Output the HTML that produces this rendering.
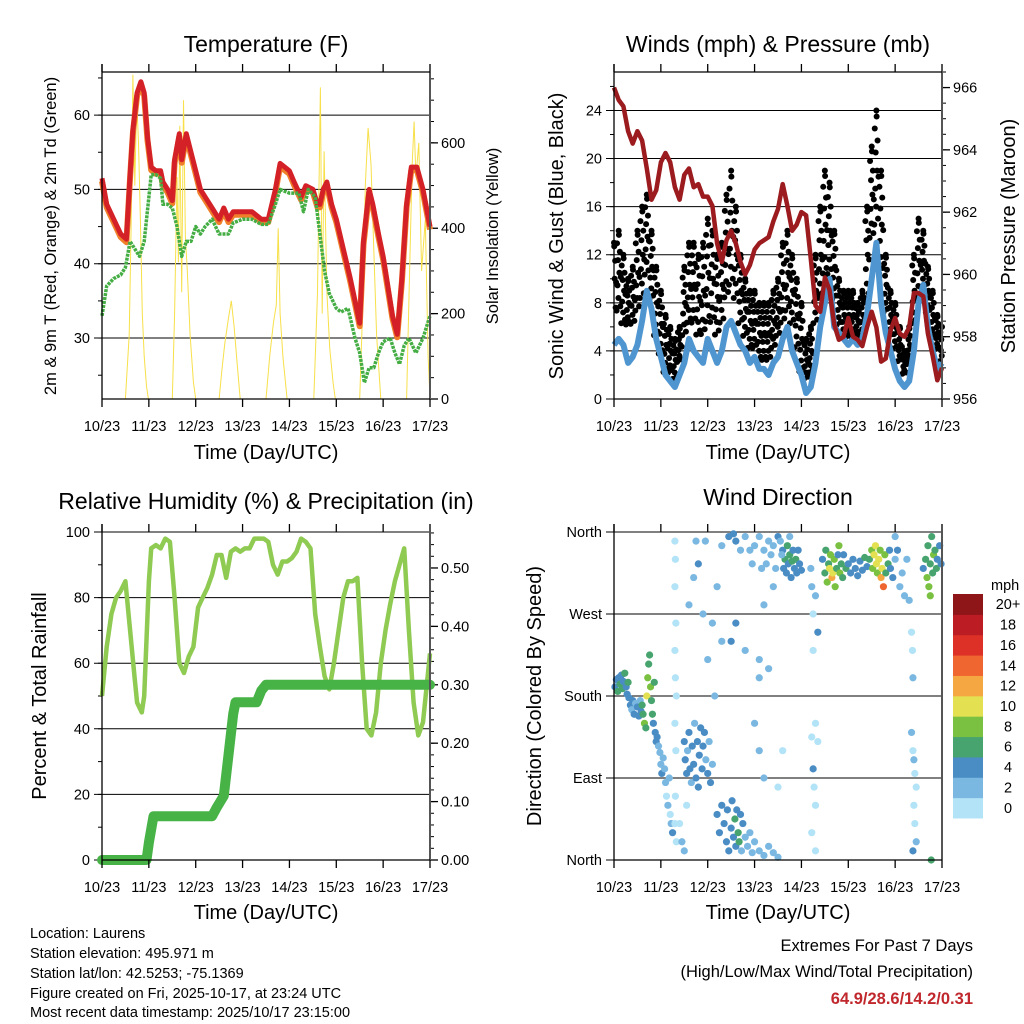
<!DOCTYPE html>
<html><head><meta charset="utf-8"><style>
html,body{margin:0;padding:0;background:#fff}
svg{display:block;font-family:"Liberation Sans",Arial,sans-serif}
</style></head><body>
<svg id="root" width="1024" height="1024" viewBox="0 0 1024 1024">
<rect width="1024" height="1024" fill="#fff"/>
<g id="g1"></g>
<g id="g2"></g>
<g id="g3"></g>
<g id="g4"></g>
<text x="266" y="52" font-size="23" text-anchor="middle">Temperature (F)</text>
<text x="778" y="52" font-size="23" text-anchor="middle">Winds (mph) &amp; Pressure (mb)</text>
<text x="266" y="509" font-size="23" text-anchor="middle">Relative Humidity (%) &amp; Precipitation (in)</text>
<text x="778" y="505" font-size="23" text-anchor="middle">Wind Direction</text>
<text x="266" y="459" font-size="20" text-anchor="middle">Time (Day/UTC)</text>
<text x="778" y="459" font-size="20" text-anchor="middle">Time (Day/UTC)</text>
<text x="266" y="919" font-size="20" text-anchor="middle">Time (Day/UTC)</text>
<text x="778" y="919" font-size="20" text-anchor="middle">Time (Day/UTC)</text>
<text transform="translate(56,236) rotate(-90)" font-size="16.5" text-anchor="middle">2m &amp; 9m T (Red, Orange) &amp; 2m Td (Green)</text>
<text transform="translate(498,236) rotate(-90)" font-size="16.5" text-anchor="middle">Solar Insolation (Yellow)</text>
<text transform="translate(563,236) rotate(-90)" font-size="20" text-anchor="middle">Sonic Wind &amp; Gust (Blue, Black)</text>
<text transform="translate(1015,236) rotate(-90)" font-size="20" text-anchor="middle">Station Pressure (Maroon)</text>
<text transform="translate(46,696) rotate(-90)" font-size="20" text-anchor="middle">Percent &amp; Total Rainfall</text>
<text transform="translate(541,696) rotate(-90)" font-size="20" text-anchor="middle">Direction (Colored By Speed)</text>
<g font-size="14.5">
<text x="30" y="938">Location: Laurens</text>
<text x="30" y="958">Station elevation: 495.971 m</text>
<text x="30" y="978">Station lat/lon: 42.5253; -75.1369</text>
<text x="30" y="998">Figure created on Fri, 2025-10-17, at 23:24 UTC</text>
<text x="30" y="1017">Most recent data timestamp: 2025/10/17 23:15:00</text>
</g>
<text x="973" y="951" font-size="16.5" text-anchor="end">Extremes For Past 7 Days</text>
<text x="973" y="977" font-size="16.5" text-anchor="end">(High/Low/Max Wind/Total Precipitation)</text>
<text x="973" y="1004" font-size="16.5" font-weight="bold" fill="#c0282d" text-anchor="end">64.9/28.6/14.2/0.31</text>
</svg>
<script>
// ---------- data ----------
const dayLabels=['10/23','11/23','12/23','13/23','14/23','15/23','16/23','17/23'];
const tempT=[0,0.1,0.25,0.4,0.52,0.6,0.66,0.75,0.83,0.9,0.97,1.05,1.15,1.25,1.3,1.4,1.5,1.55,1.65,1.7,1.8,1.9,2.0,2.1,2.2,2.35,2.5,2.6,2.7,2.8,3.0,3.2,3.4,3.55,3.7,3.8,3.9,4.0,4.1,4.25,4.35,4.5,4.6,4.65,4.72,4.8,4.9,5.0,5.15,5.3,5.4,5.5,5.58,5.7,5.78,5.9,6.0,6.1,6.2,6.3,6.4,6.5,6.6,6.72,6.85,7.0];
const tempV=[51.5,48,46,44,43.3,52,58,63,64.5,63,57,53,52.5,52.5,51,50,48.5,54,57.5,54,57.5,55,52.5,50,49,47.5,46,47.5,46,47,47,47,46,46,50,53.5,53,52.5,51,49,50.5,50,48,48,50,51,48,46,42,38,35,32,43,50,48,44,41,37,33,30.5,38,48,53,53,50,45];
const dewT=[0,0.1,0.25,0.4,0.5,0.6,0.7,0.8,0.9,1.0,1.05,1.15,1.25,1.3,1.4,1.5,1.6,1.7,1.8,1.9,2.0,2.1,2.2,2.35,2.5,2.7,2.8,3.0,3.2,3.4,3.55,3.7,3.8,4.0,4.2,4.3,4.4,4.55,4.65,4.75,4.85,5.0,5.1,5.25,5.4,5.5,5.6,5.7,5.8,5.9,6.0,6.15,6.25,6.35,6.45,6.55,6.7,6.85,7.0];
const dewV=[33,37,38,38.5,39.5,43,42,41,43,49,52,52,51.5,48,48,47.5,45,41,43,43,45,44,45,46,44,44,45.5,46,46,45.3,45.3,48,50,49.5,49.5,47,50,49,44,39,36,34,33.5,34,30,28,24,26,26,28,29.5,30,28,26.5,29,30,28,30,33];
const solarT=[0,0.5,0.58,0.62,0.66,0.7,0.74,0.78,0.82,0.86,0.9,0.95,0.99,1.5,1.55,1.6,1.63,1.66,1.7,1.74,1.78,1.82,1.88,1.95,2.0,2.5,2.56,2.62,2.7,2.76,2.82,2.88,2.95,3.5,3.58,3.66,3.72,3.76,3.8,3.86,3.95,4.52,4.6,4.66,4.7,4.74,4.8,4.86,4.93,4.98,5.5,5.56,5.62,5.68,5.74,5.8,5.86,5.95,6.5,6.56,6.62,6.66,6.7,6.76,6.82,6.9,6.96,7.0];
const solarV=[0,0,150,400,760,500,700,600,420,200,100,30,0,0,200,520,320,640,250,700,380,300,150,40,0,0,70,130,190,230,170,90,0,0,100,180,220,400,200,100,0,0,250,730,200,580,250,120,40,0,0,200,500,635,550,350,150,0,0,280,550,650,520,600,300,420,100,0];
// wind, sampled every 0.1 day
const windV=[4.5,5,4.5,3,3.5,4.5,6.5,9,7.5,5,3.5,2,1.5,1,2,3,5,4,3.5,3,5,4,3,4,6,6.5,5.5,4.5,4,3,3.5,2.5,2.5,2,3,3.5,5,6,4,3,2,0.5,1,3,6,8,10,6,5.5,5,4.5,5,4.5,5,7,10,13,8,5.5,4,2.5,1.5,1,1.5,4,8,9.5,6,4,2.5,3];
const gustMax=[13,14,12,10,11,14,16,17,14,11,9,7,6,5,6,11,13,13,12,13,15,14,12,13,17,19,16,12,10,9,9,8,8,8,9,10,13,14,12,10,8,5,6,12,16,19,18,14,10,9,9,9,8,9,16,21,24,19,12,9,8,6,4,6,12,15,14,11,9,7,6];
const gustMin=[7,7,6,6,6,7,8,10,8,5,3.5,2,2,1.5,3,5,6,6,5,5,6,6,5,6,8,9,8,6,5,4,4,3,3,3,4,5,6,7,6,4,2,1.5,2,6,8,10,10,8,6,5,5,5,5,5,8,13,14,10,7,5,4,3,2,3,6,8,9,7,5,4,3];
const pressV=[966,965.6,965.4,964.6,964.2,964.6,964.3,963.4,962.4,962.7,963.6,963.9,963.6,962.8,962.4,963.2,963.4,962.8,962.9,962.5,962.5,962.2,961.0,960.4,961.1,961.4,961.0,960.4,960.0,960.3,960.8,961.0,961.1,961.2,961.7,962.1,962.9,962.2,961.4,961.6,962.0,961.9,960.5,959.0,958.8,959.9,959.5,958.4,957.9,958.0,958.6,958.0,957.9,957.7,958.3,958.8,958.3,957.2,957.3,958.2,958.6,958.1,958.0,958.3,959.4,959.4,959.3,958.1,957.4,956.6,957.0];
const rhT=[0,0.1,0.2,0.3,0.4,0.5,0.6,0.7,0.75,0.85,0.9,1.0,1.05,1.15,1.25,1.35,1.45,1.55,1.65,1.75,1.85,1.95,2.05,2.15,2.25,2.35,2.45,2.55,2.65,2.75,2.85,2.95,3.05,3.15,3.25,3.35,3.45,3.55,3.65,3.75,3.85,3.95,4.05,4.15,4.25,4.35,4.45,4.55,4.65,4.75,4.85,4.95,5.05,5.15,5.25,5.35,5.45,5.55,5.65,5.75,5.85,5.95,6.05,6.15,6.25,6.35,6.45,6.55,6.65,6.75,6.85,7.0];
const rhV=[50,65,75,80,82,85,70,55,48,45,50,85,95,96,95,98,97,80,60,57,62,65,77,80,83,87,93,93,86,94,95,94,95,95,98,98,98,97,90,87,91,91,92,94,98,97,95,75,65,56,52,60,70,80,85,85,86,60,40,38,45,60,70,78,85,90,95,70,48,38,42,63];
const rainT=[0,0.95,1.0,1.1,2.35,2.45,2.6,2.7,2.8,2.85,3.3,3.4,3.5,7.0];
const rainV=[0,0,0.03,0.075,0.075,0.09,0.11,0.18,0.25,0.27,0.27,0.29,0.30,0.30];
const dirPts=[[0.02,190,4],[0.05,198,5],[0.08,185,6],[0.1,200,4],[0.13,193,6],[0.16,203,5],[0.18,188,6],[0.2,196,4],[0.23,205,6],[0.26,190,5],[0.28,182,4],[0.3,195,6],
[0.32,178,4],[0.35,170,4],[0.38,165,3],[0.4,175,4],[0.43,160,4],[0.46,172,3],[0.5,168,4],[0.53,158,4],[0.56,175,3],[0.58,163,4],
[0.6,170,6],[0.62,160,7],[0.65,150,8],[0.68,145,7],[0.7,180,10],[0.72,200,8],[0.74,215,6],[0.76,225,7],[0.78,190,8],[0.8,175,7],[0.82,160,6],[0.84,150,5],[0.86,195,6],[0.88,140,4],[0.9,130,4],
[0.92,135,4],[0.95,125,3],[0.98,118,2],[1.0,105,2],[1.02,95,4],[1.05,112,2],[1.08,100,3],[1.1,85,2],[1.12,70,1],[1.15,60,2],[1.18,90,2],[1.2,50,1],[1.22,40,2],[1.25,30,4],
[1.3,350,0],[1.31,330,1],[1.3,300,0],[1.32,260,1],[1.3,230,1],[1.31,200,0],[1.33,180,1],[1.3,150,0],[1.32,120,0],[1.31,70,0],[1.3,40,0],[1.33,20,1],
[1.5,130,4],[1.52,110,4],[1.55,95,4],[1.57,120,3],[1.6,140,4],[1.62,100,4],[1.65,85,3],[1.67,125,4],[1.7,105,4],[1.72,150,3],[1.75,90,4],[1.78,130,4],[1.8,80,4],[1.82,115,5],[1.85,145,4],[1.88,100,4],[1.9,125,5],[1.93,140,4],[1.96,110,3],[2.0,95,4],[2.03,130,3],[2.06,85,4],[2.1,105,3],
[1.4,40,1],[1.45,20,2],[1.5,10,2],[1.55,60,1],[1.6,280,2],[1.7,310,2],[1.75,350,2],[1.8,325,4],[1.9,270,2],[1.95,350,2],[2.0,220,2],[2.1,260,2],[2.15,180,2],[2.2,300,2],[2.3,240,3],
[2.2,50,4],[2.25,30,4],[2.3,60,4],[2.35,40,5],[2.4,20,4],[2.42,55,4],[2.45,10,4],[2.5,35,5],[2.52,65,4],[2.55,25,4],[2.58,45,6],[2.6,15,4],[2.62,55,5],[2.65,30,6],[2.67,20,7],[2.7,50,4],[2.72,10,3],[2.75,40,4],[2.8,25,3],[2.85,15,2],[2.9,30,2],[2.95,8,2],[3.0,20,3],[3.1,10,2],[3.2,5,2],[3.3,15,2],[3.4,8,2],[3.5,3,2],
[2.3,345,3],[2.45,355,4],[2.55,358,4],[2.6,350,4],[2.7,340,3],[2.8,355,2],[2.9,340,2],[3.0,345,2],[3.1,355,2],[3.2,340,2],[3.25,325,2],[3.3,350,3],[3.35,335,2],[3.4,345,3],[3.45,320,2],[3.5,355,4],[3.15,320,2],[2.95,325,2],
[2.5,240,4],[2.6,260,4],[2.8,230,2],[3.1,200,2],[3.1,220,3],[3.2,280,3],[3.3,210,2],[3.4,300,3],[3.0,150,2],[3.1,120,2],[3.2,90,2],[3.5,80,1],[3.6,120,1],
[3.6,340,4],[3.62,320,4],[3.65,330,6],[3.68,315,4],[3.7,345,6],[3.72,325,4],[3.75,335,6],[3.78,310,4],[3.8,328,6],[3.82,340,4],[3.85,320,4],[3.88,330,6],[3.9,315,4],[3.93,340,4],[3.96,325,4],[4.0,318,4],[3.55,350,3],[3.58,335,2],[3.75,355,2],
[4.2,320,2],[4.22,300,3],[4.25,270,0],[4.3,290,2],[4.35,250,4],[4.25,230,1],[4.3,150,1],[4.22,135,1],[4.25,100,4],[4.27,80,1],[4.3,60,1],[4.22,30,1],[4.35,130,1],[4.3,10,1],
[4.45,330,4],[4.5,315,6],[4.52,340,6],[4.55,305,8],[4.58,325,6],[4.6,320,10],[4.62,335,8],[4.65,310,12],[4.67,315,10],[4.7,330,8],[4.72,300,8],[4.75,320,6],[4.78,335,4],[4.8,345,8],[4.82,315,8],[4.85,325,6],[4.88,310,6],[4.9,335,4],[4.95,320,6],
[5.0,325,4],[5.05,315,4],[5.1,330,4],[5.15,320,4],[5.2,312,4],[5.25,328,4],[5.3,318,4],[5.35,332,6],[5.4,322,4],
[5.45,330,6],[5.5,340,8],[5.52,320,8],[5.55,335,10],[5.58,345,11],[5.6,325,10],[5.62,315,8],[5.65,330,10],[5.68,340,8],[5.7,310,12],[5.72,320,10],[5.75,300,14],[5.78,335,8],[5.8,315,6],[5.85,325,6],[5.88,340,4],
[5.9,320,4],[5.95,310,4],[6.0,330,2],[6.05,340,4],[6.1,300,2],[6.15,315,2],[6.2,290,2],[6.25,330,2],[6.3,285,2],[6.0,355,2],
[6.35,250,1],[6.37,230,1],[6.38,200,2],[6.35,140,2],[6.38,120,1],[6.4,110,2],[6.42,95,1],[6.45,80,1],[6.4,60,1],[6.42,40,1],[6.45,20,2],[6.38,10,4],
[6.6,320,4],[6.65,330,6],[6.68,310,8],[6.7,345,6],[6.72,300,8],[6.75,325,6],[6.78,355,6],[6.8,315,6],[6.82,335,8],[6.85,340,6],[6.88,320,6],[6.9,330,4],[6.95,345,4],[6.98,325,4],[6.75,290,8],[6.77,0,6]];
const speedColors=['#b3e3f7','#7ab8e2','#4a8cc4','#48a46f','#7ac142','#e3e052','#f5a742','#ef6630','#dd3128','#bc1c24','#8e1619'];
const speedLabels=['0','2','4','6','8','10','12','14','16','18','20+'];
const dirLabels=['North','East','South','West','North'];

// ---------- helpers ----------
const NS='http://www.w3.org/2000/svg';
function mk(tag,attrs,parent){const e=document.createElementNS(NS,tag);for(const k in attrs)e.setAttribute(k,attrs[k]);parent.appendChild(e);return e;}
const P1={x0:102,x1:430,y0:72,y1:399},P2={x0:614,x1:942,y0:72,y1:399},P3={x0:102,x1:430,y0:532,y1:860},P4={x0:614,x1:942,y0:532,y1:860};
function sx(p,t){return p.x0+t/7*(p.x1-p.x0);}
function lin(p,lo,hi){return v=>p.y1-(v-lo)/(hi-lo)*(p.y1-p.y0);}
function pathD(xs,ys){return xs.map((x,i)=>(i?'L':'M')+x.toFixed(1)+','+ys[i].toFixed(1)).join('');}

function frame(g,p,topLine){
  for(let i=0;i<dayLabels.length;i++){
    const x=sx(p,i);
    let l=mk('line',{x1:x,x2:x,y1:p.y1,y2:p.y1+8,stroke:'#000','stroke-width':1.3},g);
    
    
    let l2=mk('line',{x1:x,x2:x,y1:p.y0-8,y2:p.y0,stroke:'#000','stroke-width':1.3},g);
    
    
    let t=mk('text',{x:x,y:p.y1+32,'font-size':14.5,'text-anchor':'middle'},g);
    t.textContent=dayLabels[i];
    
    
  }
  let a=mk('line',{x1:p.x0,x2:p.x0,y1:p.y0-8,y2:p.y1,stroke:'#000','stroke-width':1.3},g);
  
  
  let b=mk('line',{x1:p.x1,x2:p.x1,y1:p.y0-8,y2:p.y1,stroke:'#555','stroke-width':2},g);
  
  
  let c=mk('line',{x1:p.x0,x2:p.x1,y1:p.y1,y2:p.y1,stroke:'#000','stroke-width':1.3},g);
  
  
  if(topLine){let d=mk('line',{x1:p.x0,x2:p.x1,y1:p.y0,y2:p.y0,stroke:'#000','stroke-width':1.3},g);
  
  }
}
function leftAxis(g,p,sc,majors,labels,minorStep,lo,hi){
  majors.forEach((v,i)=>{const y=sc(v);
    let gl=mk('line',{x1:p.x0-8,x2:p.x1,y1:y,y2:y,stroke:'#000','stroke-width':1},g);
    
    
    let t=mk('text',{x:p.x0-12,y:y+5,'font-size':14.5,'text-anchor':'end'},g);
    t.textContent=labels[i];
    
    });
  if(minorStep){for(let v=lo;v<=hi+1e-9;v+=minorStep){const y=sc(v);if(y<p.y0-8||y>p.y1)continue;
    let m=mk('line',{x1:p.x0-4,x2:p.x0,y1:y,y2:y,stroke:'#000','stroke-width':1},g);
    
    }}
}
function rightAxis(g,p,sc,majors,labels,minorStep,lo,hi){
  majors.forEach((v,i)=>{const y=sc(v);
    let tk=mk('line',{x1:p.x1,x2:p.x1+8,y1:y,y2:y,stroke:'#000','stroke-width':1.3},g);
    
    
    let t=mk('text',{x:p.x1+11,y:y+5,'font-size':14.5},g);
    t.textContent=labels[i];
    
    });
  for(let v=lo;v<=hi+1e-9;v+=minorStep){const y=sc(v);if(y<p.y0-8||y>p.y1)continue;
    let m=mk('line',{x1:p.x1,x2:p.x1+4,y1:y,y2:y,stroke:'#000','stroke-width':1},g);
    
    }
}

// ---------- Panel 1: temperature ----------
(function(){
  const g=document.getElementById('g1'),p=P1;
  const yT=lin(p,21.8,65.8),yS=lin(p,0,766);
  leftAxis(g,p,yT,[30,40,50,60],['30','40','50','60'],5,20,65);
  rightAxis(g,p,yS,[0,200,400,600],['0','200','400','600'],50,0,750);
  const s=mk('path',{d:pathD(solarT.map(t=>sx(p,t)),solarV.map(yS)),fill:'none',stroke:'#f7e04a','stroke-width':1},g);
  
  
  const xs=tempT.map(t=>sx(p,t));
  const o=mk('path',{d:pathD(xs,tempV.map(v=>yT(v-0.4))),fill:'none',stroke:'#f07f2a','stroke-width':6,'stroke-linejoin':'round'},g);
  
  
  const r=mk('path',{d:pathD(xs,tempV.map(yT)),fill:'none',stroke:'#d42127','stroke-width':5,'stroke-linejoin':'round'},g);
  
  
  const d=mk('path',{d:pathD(dewT.map(t=>sx(p,t)),dewV.map(yT)),fill:'none',stroke:'#44ad44','stroke-width':3.5,'stroke-dasharray':'3 1','stroke-linejoin':'round'},g);
  
  
  frame(g,p,true);
})();

// ---------- Panel 2: wind & pressure ----------
(function(){
  const g=document.getElementById('g2'),p=P2;
  const yW=lin(p,0,27.2),yP=lin(p,956,966.5);
  leftAxis(g,p,yW,[0,4,8,12,16,20,24],['0','4','8','12','16','20','24'],2,0,26);
  rightAxis(g,p,yP,[956,958,960,962,964,966],['956','958','960','962','964','966'],0.5,956,966.5);
  // gust scatter: dots spread between the min and max envelope for each 0.1-day sample
  const fr=[0.05,0.85,0.35,0.65,0.2,0.95,0.5,0.75,0.1,0.45];
  for(let i=0;i<gustMax.length;i++){
    const lo=gustMin[i],hi=gustMax[i];
    for(let k=0;k<fr.length;k++){
      const t=i*0.1+(k-4.5)*0.01;
      if(t<0||t>7)continue;
      const c=mk('circle',{cx:sx(p,t),cy:yW(lo+(hi-lo)*fr[k]),r:3,fill:'#000'},g);
      
      
    }
    const c2=mk('circle',{cx:sx(p,i*0.1),cy:yW(hi),r:3,fill:'#000'},g);
    
    
  }
  const w=mk('path',{d:pathD(windV.map((_,i)=>sx(p,i*0.1)),windV.map(yW)),fill:'none',stroke:'#4f96d1','stroke-width':6,'stroke-linejoin':'round'},g);
  
  
  const pr=mk('path',{d:pathD(pressV.map((_,i)=>sx(p,i*0.1)),pressV.map(yP)),fill:'none',stroke:'#9b1b1e','stroke-width':4.5,'stroke-linejoin':'round'},g);
  
  
  frame(g,p,true);
})();

// ---------- Panel 3: RH & precip ----------
(function(){
  const g=document.getElementById('g3'),p=P3;
  const yR=lin(p,0,100),yQ=lin(p,0,0.5616);
  leftAxis(g,p,yR,[0,20,40,60,80,100],['0','20','40','60','80','100'],10,0,100);
  rightAxis(g,p,yQ,[0,0.1,0.2,0.3,0.4,0.5],['0.00','0.10','0.20','0.30','0.40','0.50'],0.02,0,0.56);
  const rh=mk('path',{d:pathD(rhT.map(t=>sx(p,t)),rhV.map(yR)),fill:'none',stroke:'#8fca52','stroke-width':4.5,'stroke-linejoin':'round'},g);
  
  
  const rn=mk('path',{d:pathD(rainT.map(t=>sx(p,t)),rainV.map(yQ)),fill:'none',stroke:'#47b347','stroke-width':10,'stroke-linejoin':'round','stroke-linecap':'round'},g);
  
  
  frame(g,p,false);
})();

// ---------- Panel 4: wind direction ----------
(function(){
  const g=document.getElementById('g4'),p=P4;
  const yD=lin(p,0,360);
  leftAxis(g,p,yD,[0,90,180,270,360],dirLabels,0,0,0);
  dirPts.forEach(d=>{
    const idx=Math.min(10,Math.floor(d[2]/2));
    const c=mk('circle',{cx:sx(p,d[0]),cy:yD(d[1]),r:3.6,fill:speedColors[idx]},g);
    
    
  });
  frame(g,p,false);
  const cb=mk('g',{},g);
  
  
  const t0=mk('text',{x:991,y:590,'font-size':14.5},cb);
  t0.textContent='mph';
  
  
  const bh=(818-594)/speedColors.length;
  speedColors.forEach((col,i)=>{
    const y=818-(i+1)*bh;
    const r=mk('rect',{x:953,y:y,width:30,height:bh+0.5,fill:col},cb);
    
    
    const t=mk('text',{x:1008,y:y+bh/2+5,'font-size':14.5,'text-anchor':'middle'},cb);
    t.textContent=speedLabels[i];
    
    
  });
})();
</script>
</body></html>
